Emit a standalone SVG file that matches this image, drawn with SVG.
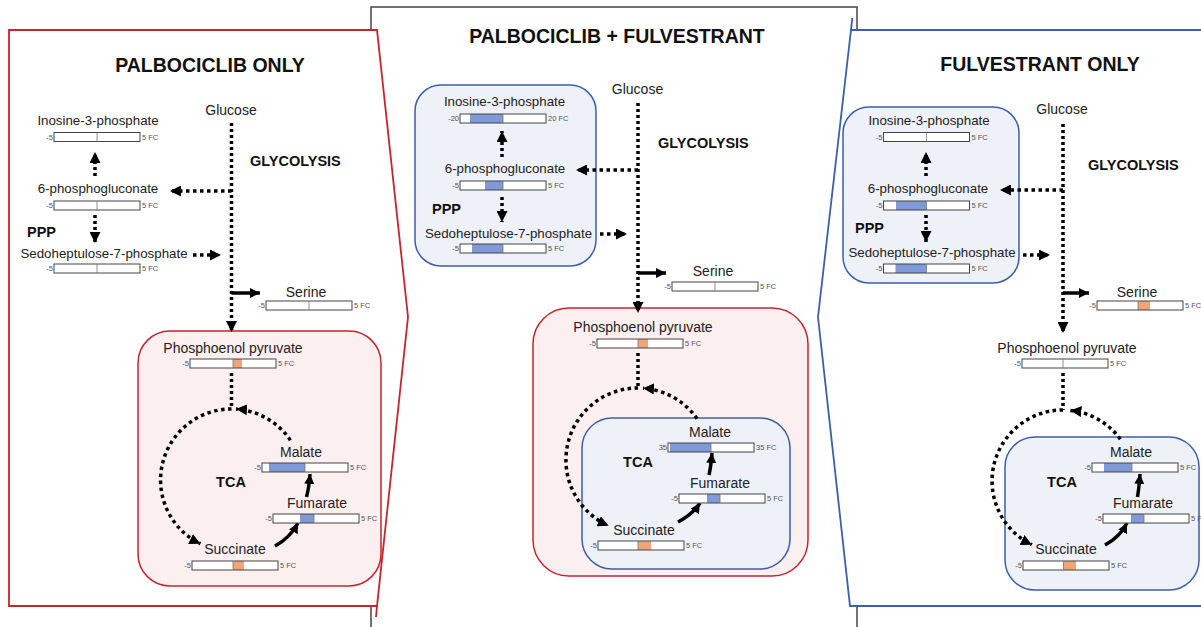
<svg xmlns="http://www.w3.org/2000/svg" width="1201" height="627" viewBox="0 0 1201 627">
<defs>
<style>
text{font-family:"Liberation Sans",Arial,sans-serif;fill:#222}
.title{font-size:19.5px;font-weight:bold;text-anchor:middle;fill:#111}
.bold{font-size:14.5px;font-weight:bold;fill:#111}
.m{font-size:14px;text-anchor:middle}
.mp{font-size:13.3px;text-anchor:middle}
.sm{font-size:7.5px;fill:#555}
.smr{font-size:7.5px;fill:#555;text-anchor:end}
.bar{fill:#fff;stroke:none}
.bo{fill:none;stroke:#444;stroke-width:1}
.tick{stroke:#777;stroke-width:0.8}
.blue{fill:#7f9ad6}
.org{fill:#f2a477}
.dv{fill:none;stroke:#000;stroke-width:3.5;stroke-dasharray:3 3}
.dh{fill:none;stroke:#000;stroke-width:3.5;stroke-dasharray:3.5 3.5}
.sol{fill:none;stroke:#000;stroke-width:3.5}
.redbox{fill:#fcefef;stroke:#c4262e;stroke-width:1.5}
.bluebox{fill:#eef1f7;stroke:#3d5fa8;stroke-width:1.5}
</style>
<marker id="ah" viewBox="0 0 10 10" refX="10" refY="5" markerWidth="11" markerHeight="11" markerUnits="userSpaceOnUse" orient="auto"><path d="M0,0 L10,5 L0,10 Z" fill="#000"/></marker>
<marker id="as" viewBox="0 0 10 10" refX="10" refY="5" markerWidth="10" markerHeight="10" markerUnits="userSpaceOnUse" orient="auto"><path d="M0,0 L10,5 L0,10 Z" fill="#000"/></marker>
</defs>
<rect width="1201" height="627" fill="#fff"/>

<!-- panels -->
<g id="panel-center">
<rect x="371" y="7" width="486" height="640" fill="#fff" stroke="#444" stroke-width="1.5"/>
</g>
<g id="panel-left">
<path d="M9,30 H377 L408,317 L377,606 H9 Z" fill="#fff" stroke="#c4262e" stroke-width="1.8"/>
<line x1="377" y1="606" x2="376" y2="617" stroke="#c4262e" stroke-width="1.8"/>
</g>
<g id="panel-right">
<path d="M1210,30 H851 L818,317 L850,606 H1210 Z" fill="#fff" stroke="#3d5fa8" stroke-width="1.8"/>
<line x1="851" y1="30" x2="852.3" y2="18" stroke="#3d5fa8" stroke-width="1.8"/>
</g>

<!-- boxes -->
<g id="boxes">
<rect class="redbox" x="138" y="331" width="243" height="255" rx="32"/>
<rect class="bluebox" x="415" y="85" width="181" height="181" rx="26"/>
<rect class="redbox" x="533" y="308" width="275" height="268" rx="36"/>
<rect class="bluebox" x="582" y="418" width="208" height="151" rx="30" fill="#ebecf3"/>
<rect class="bluebox" x="843" y="107" width="176" height="176" rx="26"/>
<rect class="bluebox" x="1005" y="437" width="194" height="153" rx="30"/>
</g>

<!-- titles and labels -->
<g id="titles">
<text class="title" x="210" y="72">PALBOCICLIB ONLY</text>
<text class="title" x="617" y="43">PALBOCICLIB + FULVESTRANT</text>
<text class="title" x="1040" y="71">FULVESTRANT ONLY</text>
<text class="bold" x="250" y="166">GLYCOLYSIS</text>
<text class="bold" x="658" y="148">GLYCOLYSIS</text>
<text class="bold" x="1088" y="170">GLYCOLYSIS</text>
<text class="bold" x="27" y="237" font-size="14">PPP</text>
<text class="bold" x="432" y="214" font-size="14">PPP</text>
<text class="bold" x="855" y="233" font-size="14">PPP</text>
<text class="bold" x="231" y="487" text-anchor="middle">TCA</text>
<text class="bold" x="638" y="467" text-anchor="middle">TCA</text>
<text class="bold" x="1062" y="487" text-anchor="middle">TCA</text>
</g>

<!-- connectors -->
<g id="connectors">
<!-- left -->
<line class="dv" x1="231.5" y1="123" x2="231.5" y2="332" marker-end="url(#ah)"/>
<line class="dh" x1="231.5" y1="191" x2="170" y2="191" marker-end="url(#ah)"/>
<line class="dv" x1="95" y1="176" x2="95" y2="152" marker-end="url(#ah)"/>
<line class="dv" x1="95" y1="215" x2="95" y2="243" marker-end="url(#ah)"/>
<line class="dh" x1="193" y1="255" x2="221" y2="255" marker-end="url(#ah)"/>
<line class="sol" x1="231.5" y1="293" x2="260" y2="293" marker-end="url(#as)"/>
<line class="dv" x1="231.5" y1="373" x2="231.5" y2="409"/>
<path class="dh" d="M290.4,440.3 A71,71 0 0 0 236,409.1" marker-end="url(#ah)"/>
<path class="dh" d="M231.5,409 A71,71 0 0 0 200.4,543.8" marker-end="url(#ah)"/>
<path class="sol" d="M306.5,497 Q309,488 310,474" marker-end="url(#as)"/>
<path class="sol" d="M275,546 Q290,538 298,523" marker-end="url(#as)"/>
<!-- center -->
<line class="dv" x1="638" y1="103" x2="638" y2="313" marker-end="url(#ah)"/>
<line class="dh" x1="638" y1="170" x2="576" y2="170" marker-end="url(#ah)"/>
<line class="dv" x1="502" y1="157" x2="502" y2="131" marker-end="url(#ah)"/>
<line class="dv" x1="502" y1="197" x2="502" y2="222" marker-end="url(#ah)"/>
<line class="dh" x1="600" y1="234" x2="627" y2="234" marker-end="url(#ah)"/>
<line class="sol" x1="638" y1="273" x2="666" y2="273" marker-end="url(#as)"/>
<line class="dv" x1="638" y1="353" x2="638" y2="388"/>
<path class="dh" d="M697,418.7 A72,72 0 0 0 643,388.2" marker-end="url(#ah)"/>
<path class="dh" d="M638,388 A72,72 0 0 0 608.7,525.8" marker-end="url(#ah)"/>
<path class="sol" d="M709,475 Q711,466 712,453" marker-end="url(#as)"/>
<path class="sol" d="M678,522 Q693,514 700,503" marker-end="url(#as)"/>
<!-- right -->
<line class="dv" x1="1063" y1="124" x2="1063" y2="333" marker-end="url(#ah)"/>
<line class="dh" x1="1063" y1="190" x2="1000" y2="190" marker-end="url(#ah)"/>
<line class="dv" x1="926" y1="176" x2="926" y2="152" marker-end="url(#ah)"/>
<line class="dv" x1="926" y1="215" x2="926" y2="242" marker-end="url(#ah)"/>
<line class="dh" x1="1023" y1="255" x2="1050" y2="255" marker-end="url(#ah)"/>
<line class="sol" x1="1063" y1="293" x2="1089" y2="293" marker-end="url(#as)"/>
<line class="dv" x1="1063" y1="373" x2="1063" y2="410"/>
<path class="dh" d="M1120.4,439.3 A71,71 0 0 0 1070.4,410.4" marker-end="url(#ah)"/>
<path class="dh" d="M1063,410 A71,71 0 0 0 1031.9,544.8" marker-end="url(#ah)"/>
<path class="sol" d="M1137.5,497 Q1139,488 1140,474" marker-end="url(#as)"/>
<path class="sol" d="M1105,545 Q1120,537 1127,523" marker-end="url(#as)"/>
</g>

<!-- LEFT nodes -->
<g id="L-glucose"><text class="m" x="231" y="115">Glucose</text></g>
<g id="L-inosine"><text class="mp" x="98" y="125">Inosine-3-phosphate</text>
<g transform="translate(54,132.5)"><rect class="bar" width="86" height="9"/><rect class="bo" width="86" height="9"/><line class="tick" x1="43" y1="0" x2="43" y2="9"/><text class="smr" x="-1" y="7">-5</text><text class="sm" x="88" y="7">5 FC</text></g></g>
<g id="L-6pg"><text class="mp" x="98" y="193">6-phosphogluconate</text>
<g transform="translate(54,201)"><rect class="bar" width="86" height="9"/><rect class="bo" width="86" height="9"/><line class="tick" x1="43" y1="0" x2="43" y2="9"/><text class="smr" x="-1" y="7">-5</text><text class="sm" x="88" y="7">5 FC</text></g></g>
<g id="L-sedo"><text class="mp" x="104" y="258">Sedoheptulose-7-phosphate</text>
<g transform="translate(54,264)"><rect class="bar" width="86" height="9"/><rect class="bo" width="86" height="9"/><line class="tick" x1="43" y1="0" x2="43" y2="9"/><text class="smr" x="-1" y="7">-5</text><text class="sm" x="88" y="7">5 FC</text></g></g>
<g id="L-serine"><text class="m" x="306" y="297">Serine</text>
<g transform="translate(266,301)"><rect class="bar" width="86" height="9"/><rect class="bo" width="86" height="9"/><line class="tick" x1="43" y1="0" x2="43" y2="9"/><text class="smr" x="-1" y="7">-5</text><text class="sm" x="88" y="7">5 FC</text></g></g>
<g id="L-pep"><text class="m" x="233" y="353">Phosphoenol pyruvate</text>
<g transform="translate(190,359)"><rect class="bar" width="86" height="9"/><rect class="org" x="43" width="9" height="9"/><rect class="bo" width="86" height="9"/><line class="tick" x1="43" y1="0" x2="43" y2="9"/><text class="smr" x="-1" y="7">-5</text><text class="sm" x="88" y="7">5 FC</text></g></g>
<g id="L-malate"><text class="m" x="301" y="457">Malate</text>
<g transform="translate(262,463)"><rect class="bar" width="86" height="9"/><rect class="blue" x="7" width="36" height="9"/><rect class="bo" width="86" height="9"/><line class="tick" x1="43" y1="0" x2="43" y2="9"/><text class="smr" x="-1" y="7">-5</text><text class="sm" x="88" y="7">5 FC</text></g></g>
<g id="L-fumarate"><text class="m" x="317" y="508">Fumarate</text>
<g transform="translate(273,514)"><rect class="bar" width="86" height="9"/><rect class="blue" x="27" width="14" height="9"/><rect class="bo" width="86" height="9"/><line class="tick" x1="41" y1="0" x2="41" y2="9"/><text class="smr" x="-1" y="7">-5</text><text class="sm" x="88" y="7">5 FC</text></g></g>
<g id="L-succinate"><text class="m" x="235" y="554">Succinate</text>
<g transform="translate(192,561)"><rect class="bar" width="86" height="9"/><rect class="org" x="41" width="11" height="9"/><rect class="bo" width="86" height="9"/><line class="tick" x1="41" y1="0" x2="41" y2="9"/><text class="smr" x="-1" y="7">-5</text><text class="sm" x="88" y="7">5 FC</text></g></g>

<!-- CENTER nodes -->
<g id="C-glucose"><text class="m" x="637.5" y="94">Glucose</text></g>
<g id="C-inosine"><text class="mp" x="504.5" y="106">Inosine-3-phosphate</text>
<g transform="translate(460,114)"><rect class="bar" width="86" height="9"/><rect class="blue" x="10" width="33" height="9"/><rect class="bo" width="86" height="9"/><line class="tick" x1="43" y1="0" x2="43" y2="9"/><text class="smr" x="-1" y="7">-20</text><text class="sm" x="88" y="7">20 FC</text></g></g>
<g id="C-6pg"><text class="mp" x="505" y="173">6-phosphogluconate</text>
<g transform="translate(460,181)"><rect class="bar" width="86" height="9"/><rect class="blue" x="25" width="18" height="9"/><rect class="bo" width="86" height="9"/><line class="tick" x1="43" y1="0" x2="43" y2="9"/><text class="smr" x="-1" y="7">-5</text><text class="sm" x="88" y="7">5 FC</text></g></g>
<g id="C-sedo"><text class="mp" x="508.5" y="238">Sedoheptulose-7-phosphate</text>
<g transform="translate(460,244)"><rect class="bar" width="86" height="9"/><rect class="blue" x="12" width="31" height="9"/><rect class="bo" width="86" height="9"/><line class="tick" x1="43" y1="0" x2="43" y2="9"/><text class="smr" x="-1" y="7">-5</text><text class="sm" x="88" y="7">5 FC</text></g></g>
<g id="C-serine"><text class="m" x="713" y="276">Serine</text>
<g transform="translate(672,282)"><rect class="bar" width="86" height="9"/><rect class="bo" width="86" height="9"/><line class="tick" x1="43" y1="0" x2="43" y2="9"/><text class="smr" x="-1" y="7">-5</text><text class="sm" x="88" y="7">5 FC</text></g></g>
<g id="C-pep"><text class="m" x="643" y="332">Phosphoenol pyruvate</text>
<g transform="translate(597,339)"><rect class="bar" width="86" height="9"/><rect class="org" x="41" width="10" height="9"/><rect class="bo" width="86" height="9"/><line class="tick" x1="41" y1="0" x2="41" y2="9"/><text class="smr" x="-1" y="7">-5</text><text class="sm" x="88" y="7">5 FC</text></g></g>
<g id="C-malate"><text class="m" x="710" y="437">Malate</text>
<g transform="translate(668,443)"><rect class="bar" width="86" height="9"/><rect class="blue" x="2" width="41" height="9"/><rect class="bo" width="86" height="9"/><line class="tick" x1="43" y1="0" x2="43" y2="9"/><text class="smr" x="-1" y="7">35</text><text class="sm" x="88" y="7">35 FC</text></g></g>
<g id="C-fumarate"><text class="m" x="720" y="488">Fumarate</text>
<g transform="translate(679,494)"><rect class="bar" width="86" height="9"/><rect class="blue" x="28" width="13" height="9"/><rect class="bo" width="86" height="9"/><line class="tick" x1="41" y1="0" x2="41" y2="9"/><text class="smr" x="-1" y="7">-5</text><text class="sm" x="88" y="7">5 FC</text></g></g>
<g id="C-succinate"><text class="m" x="644" y="535">Succinate</text>
<g transform="translate(598,541)"><rect class="bar" width="86" height="9"/><rect class="org" x="40" width="13" height="9"/><rect class="bo" width="86" height="9"/><line class="tick" x1="40" y1="0" x2="40" y2="9"/><text class="smr" x="-1" y="7">-5</text><text class="sm" x="88" y="7">5 FC</text></g></g>

<!-- RIGHT nodes -->
<g id="R-glucose"><text class="m" x="1062" y="114">Glucose</text></g>
<g id="R-inosine"><text class="mp" x="929" y="125">Inosine-3-phosphate</text>
<g transform="translate(883.5,132.5)"><rect class="bar" width="86" height="9"/><rect class="bo" width="86" height="9"/><line class="tick" x1="43" y1="0" x2="43" y2="9"/><text class="smr" x="-1" y="7">-5</text><text class="sm" x="88" y="7">5 FC</text></g></g>
<g id="R-6pg"><text class="mp" x="928" y="193">6-phosphogluconate</text>
<g transform="translate(883.5,201)"><rect class="bar" width="86" height="9"/><rect class="blue" x="12.5" width="30.5" height="9"/><rect class="bo" width="86" height="9"/><line class="tick" x1="43" y1="0" x2="43" y2="9"/><text class="smr" x="-1" y="7">-5</text><text class="sm" x="88" y="7">5 FC</text></g></g>
<g id="R-sedo"><text class="mp" x="932" y="257">Sedoheptulose-7-phosphate</text>
<g transform="translate(883.5,264)"><rect class="bar" width="86" height="9"/><rect class="blue" x="12" width="31" height="9"/><rect class="bo" width="86" height="9"/><line class="tick" x1="43" y1="0" x2="43" y2="9"/><text class="smr" x="-1" y="7">-5</text><text class="sm" x="88" y="7">5 FC</text></g></g>
<g id="R-serine"><text class="m" x="1137" y="297">Serine</text>
<g transform="translate(1097,301)"><rect class="bar" width="86" height="9"/><rect class="org" x="41" width="12" height="9"/><rect class="bo" width="86" height="9"/><line class="tick" x1="41" y1="0" x2="41" y2="9"/><text class="smr" x="-1" y="7">-5</text><text class="sm" x="88" y="7">5 FC</text></g></g>
<g id="R-pep"><text class="m" x="1067" y="353">Phosphoenol pyruvate</text>
<g transform="translate(1022,359)"><rect class="bar" width="86" height="9"/><rect class="bo" width="86" height="9"/><line class="tick" x1="41" y1="0" x2="41" y2="9"/><text class="smr" x="-1" y="7">-5</text><text class="sm" x="88" y="7">5 FC</text></g></g>
<g id="R-malate"><text class="m" x="1131" y="457">Malate</text>
<g transform="translate(1092,463)"><rect class="bar" width="86" height="9"/><rect class="blue" x="12" width="28" height="9"/><rect class="bo" width="86" height="9"/><line class="tick" x1="40" y1="0" x2="40" y2="9"/><text class="smr" x="-1" y="7">-5</text><text class="sm" x="88" y="7">5 FC</text></g></g>
<g id="R-fumarate"><text class="m" x="1143" y="508">Fumarate</text>
<g transform="translate(1103,514)"><rect class="bar" width="86" height="9"/><rect class="blue" x="28" width="13" height="9"/><rect class="bo" width="86" height="9"/><line class="tick" x1="41" y1="0" x2="41" y2="9"/><text class="smr" x="-1" y="7">-5</text><text class="sm" x="88" y="7">5 FC</text></g></g>
<g id="R-succinate"><text class="m" x="1066" y="554">Succinate</text>
<g transform="translate(1023,561)"><rect class="bar" width="86" height="9"/><rect class="org" x="40.5" width="12.5" height="9"/><rect class="bo" width="86" height="9"/><line class="tick" x1="40.5" y1="0" x2="40.5" y2="9"/><text class="smr" x="-1" y="7">-5</text><text class="sm" x="88" y="7">5 FC</text></g></g>
</svg>
